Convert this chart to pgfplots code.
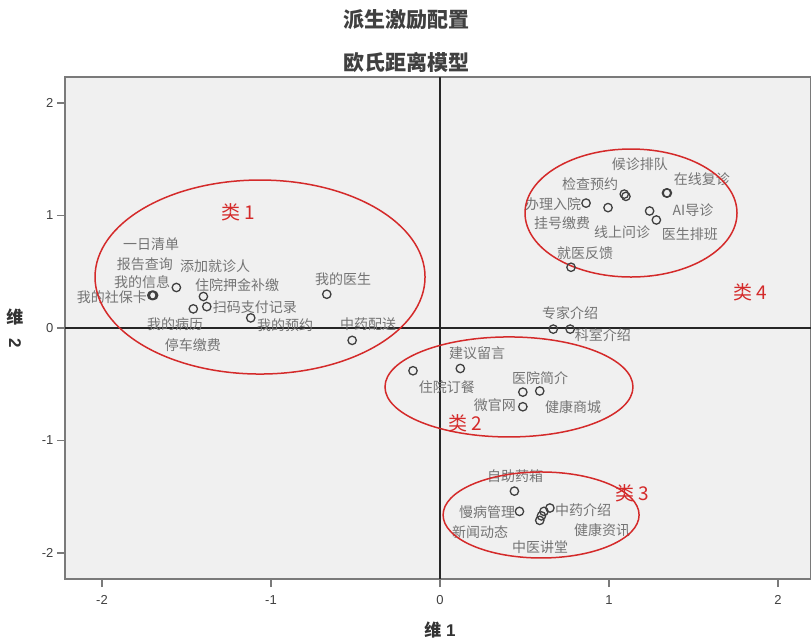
\documentclass[border=0pt]{standalone}
\usepackage{pgfplots}
\pgfplotsset{compat=1.18}
\usepackage{fontspec}
\setmainfont{Liberation Sans}
\newfontfamily\cjk{Noto Sans CJK SC}
\definecolor{bgc}{HTML}{F0F0F0}
\definecolor{lblc}{HTML}{747474}
\definecolor{redc}{HTML}{D42A2A}
\definecolor{framec}{HTML}{7A7A7A}
\begin{document}
\begin{tikzpicture}
\useasboundingbox (-65pt,-63pt) rectangle (746pt,579pt);
\begin{axis}[
  at={(0,0)}, anchor=south west,
  scale only axis, width=746pt, height=502pt,
  xmin=-2.219, xmax=2.195, ymin=-2.231, ymax=2.231,
  xtick={-2,-1,0,1,2}, ytick={-2,-1,0,1,2},
  xtick pos=left, ytick pos=left,
  tick align=outside, major tick length=8pt,
  tick style={framec, line width=1.3pt},
  axis line style={framec, line width=1.5pt},
  axis background/.style={fill=bgc},
  /pgf/number format/assume math mode=true,
  ticklabel style={font=\fontsize{13}{13}\selectfont, text=black!75},
  xticklabel style={yshift=-5pt},
  clip=false,
]
\draw[black!85, line width=1.2pt] (axis cs:0,-2.231) -- (axis cs:0,2.231);
\draw[black!85, line width=1.2pt] (axis cs:-2.219,0) -- (axis cs:2.195,0);

% points
\addplot[only marks, mark=o, mark size=4.2pt, draw=black!75, line width=1.3pt] coordinates {
 (-1.70,0.29) (-1.695,0.29) (-1.705,0.29)
 (-1.56,0.36) (-1.40,0.28) (-1.46,0.17) (-1.38,0.19) (-1.12,0.09) (-0.67,0.30) (-0.52,-0.11)
 (0.864,1.11) (0.994,1.07) (1.09,1.19) (1.10,1.17) (1.34,1.20) (1.345,1.20) (1.24,1.04) (1.28,0.96) (0.775,0.54)
 (0.67,-0.01) (0.77,-0.01)
 (-0.16,-0.38) (0.12,-0.36) (0.49,-0.57) (0.59,-0.56) (0.49,-0.70)
 (0.44,-1.45) (0.47,-1.63) (0.65,-1.60) (0.615,-1.63) (0.60,-1.67) (0.59,-1.71)
};

% labels
\begin{scope}[every node/.style={font=\cjk\fontsize{14}{14}\selectfont, text=lblc, inner sep=0pt}]
\node at (axis cs:-1.710,0.747) {一日清单};
\node at (axis cs:-1.746,0.569) {报告查询};
\node at (axis cs:-1.331,0.551) {添加就诊人};
\node at (axis cs:-1.763,0.409) {我的信息};
\node at (axis cs:-1.941,0.276) {我的社保卡};
\node at (axis cs:-1.201,0.382) {住院押金补缴};
\node at (axis cs:-1.095,0.187) {扫码支付记录};
\node at (axis cs:-1.568,0.036) {我的病历};
\node at (axis cs:-0.917,0.027) {我的预约};
\node at (axis cs:-1.462,-0.151) {停车缴费};
\node at (axis cs:-0.574,0.436) {我的医生};
\node at (axis cs:-0.426,0.036) {中药配送};
\node at (axis cs:1.183,1.458) {候诊排队};
\node at (axis cs:0.888,1.280) {检查预约};
\node at (axis cs:1.550,1.324) {在线复诊};
\node at (axis cs:0.669,1.102) {办理入院};
\node at (axis cs:1.497,1.049) {AI导诊};
\node at (axis cs:0.722,0.933) {挂号缴费};
\node at (axis cs:1.077,0.853) {线上问诊};
\node at (axis cs:1.479,0.836) {医生排班};
\node at (axis cs:0.858,0.667) {就医反馈};
\node at (axis cs:0.769,0.133) {专家介绍};
\node at (axis cs:0.964,-0.062) {科室介绍};
\node at (axis cs:0.219,-0.222) {建议留言};
\node at (axis cs:0.041,-0.524) {住院订餐};
\node at (axis cs:0.592,-0.444) {医院简介};
\node at (axis cs:0.325,-0.684) {微官网};
\node at (axis cs:0.787,-0.702) {健康商城};
\node at (axis cs:0.444,-1.316) {自助药箱};
\node at (axis cs:0.278,-1.636) {慢病管理};
\node at (axis cs:0.846,-1.618) {中药介绍};
\node at (axis cs:0.237,-1.813) {新闻动态};
\node at (axis cs:0.959,-1.796) {健康资讯};
\node at (axis cs:0.592,-1.947) {中医讲堂};
\end{scope}

% cluster ellipses
\draw[redc, line width=1.5pt] (axis cs:-1.065,0.453) ellipse [x radius=165pt, y radius=97pt];
\draw[redc, line width=1.5pt] (axis cs:1.130,1.022) ellipse [x radius=106pt, y radius=64pt];
\draw[redc, line width=1.5pt] (axis cs:0.408,-0.524) ellipse [x radius=124pt, y radius=50pt];
\draw[redc, line width=1.5pt] (axis cs:0.598,-1.662) ellipse [x radius=98pt, y radius=43pt];
\begin{scope}[every node/.style={font=\cjk\fontsize{19}{19}\selectfont, text=redc, inner sep=0pt}]
\node at (axis cs:-1.195,1.031) {类 1};
\node at (axis cs:0.148,-0.844) {类 2};
\node at (axis cs:1.136,-1.467) {类 3};
\node at (axis cs:1.834,0.320) {类 4};
\end{scope}
\end{axis}
% titles and axis labels
\node[font=\cjk\bfseries\fontsize{21}{21}\selectfont, text=black!75] at (341pt,559pt) {派生激励配置};
\node[font=\cjk\bfseries\fontsize{21}{21}\selectfont, text=black!75] at (341pt,517pt) {欧氏距离模型};
\node[font=\bfseries\fontsize{17}{17}\selectfont, text=black!80] at (375pt,-51pt) {{\cjk 维} 1};
\node[font=\bfseries\fontsize{17}{17}\selectfont, text=black!80, align=center, inner sep=0pt] at (-50pt,251pt) {{\cjk 维}\\[-2pt]\rotatebox{-90}{2}};
\end{tikzpicture}
\end{document}
